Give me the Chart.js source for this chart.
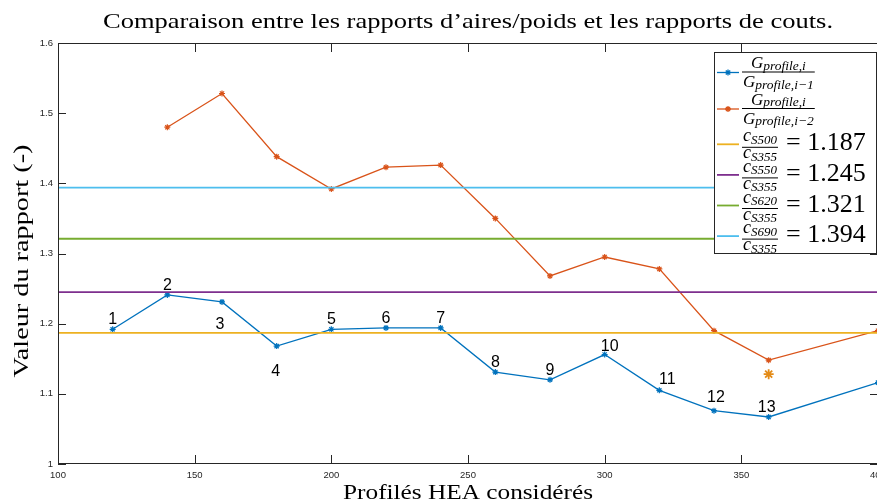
<!DOCTYPE html>
<html>
<head>
<meta charset="utf-8">
<script src="https://cdn.jsdelivr.net/npm/chart.js@4.4.0/dist/chart.umd.min.js"></script>
<style>
  html, body { margin: 0; padding: 0; background: #fff; overflow: hidden; }
  canvas { display: block; }
</style>
</head>
<body>
<canvas id="ratios" width="878" height="501"></canvas>
<script>
// HEA sizes and area ratio with the previous profile (i / i-1)
const xConsec = [120, 140, 160, 180, 200, 220, 240, 260, 280, 300, 320, 340, 360, 400];
const ratioConsec = [1.192, 1.241, 1.231, 1.168, 1.192, 1.194, 1.194, 1.131, 1.120, 1.156, 1.105, 1.076, 1.067, 1.116];
// area ratio with the profile two sizes below (i / i-2)
const xSkip = [140, 160, 180, 200, 220, 240, 260, 280, 300, 320, 340, 360, 400];
const ratioSkip = [1.480, 1.528, 1.438, 1.392, 1.423, 1.426, 1.350, 1.268, 1.295, 1.278, 1.190, 1.148, 1.190];
const pointLabels = ['1', '2', '3', '4', '5', '6', '7', '8', '9', '10', '11', '12', '13'];
// single highlighted point
const markX = [360];
const markY = [1.128];
// steel cost ratios relative to S355
const steelGrades = ['S500', 'S550', 'S620', 'S690'];
const costRatios = [1.187, 1.245, 1.321, 1.394];
const xTicks = [100, 150, 200, 250, 300, 350, 400];
const yTicks = [1, 1.1, 1.2, 1.3, 1.4, 1.5, 1.6];

const BLUE = '#0072BD', ORANGE = '#D95319';
const gradeColors = ['#EDB120', '#7E2F8E', '#77AC30', '#4DBEEE'];
const AXIS = '#262626';
const SERIF = '"Liberation Serif", "Times New Roman", serif';

const hLines = costRatios.map((c, i) => ({
  label: steelGrades[i],
  data: [{ x: xTicks[0], y: c }, { x: xTicks[xTicks.length - 1], y: c }],
  borderColor: gradeColors[i],
  borderWidth: 1.8,
  pointRadius: 0,
  order: 0
}));

// draw a run of text pieces (main letter, subscript...) left to right
function mathRun(ctx, runs, x, y, measureOnly) {
  let w = 0;
  runs.forEach(r => {
    ctx.font = (r.upright ? '' : 'italic ') + r.size + 'px ' + SERIF;
    if (!measureOnly) ctx.fillText(r.t, x + w, y + (r.dy || 0));
    w += ctx.measureText(r.t).width;
  });
  return w;
}

function frac(ctx, num, den, x, bar, numUp, denDown) {
  const wn = mathRun(ctx, num, 0, 0, true);
  const wd = mathRun(ctx, den, 0, 0, true);
  const w = Math.max(wn, wd) + 2;
  mathRun(ctx, num, x + (w - wn) / 2, bar - numUp);
  mathRun(ctx, den, x + (w - wd) / 2, bar + denDown);
  ctx.fillRect(x, bar - 0.5, w, 1);
  return w;
}

function fitText(ctx, text, cx, y, width) {
  const m = ctx.measureText(text).width;
  ctx.save();
  ctx.translate(cx, y);
  ctx.scale(width / m, 1);
  ctx.textAlign = 'center';
  ctx.fillText(text, 0, 0);
  ctx.restore();
}

const decorations = {
  id: 'decorations',
  afterDraw(chart, args, opts) {
    const ctx = chart.ctx;
    const { left, right, top, bottom } = chart.chartArea;
    const xs = chart.scales.x, ys = chart.scales.y;
    ctx.save();

    // axes box with inward ticks
    ctx.strokeStyle = AXIS;
    ctx.lineWidth = 1;
    ctx.beginPath();
    ctx.rect(left + 0.5, top + 0.5, right - left - 1, bottom - top - 1);
    xTicks.forEach(v => {
      const px = Math.round(xs.getPixelForValue(v)) + 0.5;
      ctx.moveTo(px, bottom); ctx.lineTo(px, bottom - 9);
      ctx.moveTo(px, top); ctx.lineTo(px, top + 9);
    });
    yTicks.forEach(v => {
      const py = Math.round(ys.getPixelForValue(v)) + 0.5;
      ctx.moveTo(left, py); ctx.lineTo(left + 8, py);
      ctx.moveTo(right, py); ctx.lineTo(right - 8, py);
    });
    ctx.stroke();

    // numbers beside the i / i-1 points
    const pts = chart.getDatasetMeta(0).data;
    ctx.fillStyle = '#000';
    ctx.font = '16px "Liberation Sans", Arial, sans-serif';
    ctx.textAlign = 'center';
    ctx.textBaseline = 'alphabetic';
    pointLabels.forEach((t, i) => {
      const s = opts.shift[i] || [0, -5];
      ctx.fillText(t, pts[i].x + s[0], pts[i].y + s[1]);
    });

    // title and axis titles
    ctx.fillStyle = '#000';
    ctx.font = '21px ' + SERIF;
    fitText(ctx, 'Comparaison entre les rapports d\u2019aires/poids et les rapports de couts.', 468, 28, 730);
    ctx.font = '21px ' + SERIF;
    fitText(ctx, 'Profilés HEA considérés', 468, 499, 250);
    ctx.save();
    ctx.translate(28, 261);
    ctx.rotate(-Math.PI / 2);
    ctx.font = '21px ' + SERIF;
    fitText(ctx, 'Valeur du rapport (-)', 0, 0, 233);
    ctx.restore();

    // legend
    const bx = 714, by = 52, bw = 162, bh = 201;
    ctx.fillStyle = '#fff';
    ctx.fillRect(bx, by, bw, bh);
    ctx.strokeStyle = AXIS;
    ctx.lineWidth = 1;
    ctx.strokeRect(bx + 0.5, by + 0.5, bw, bh);
    ctx.textAlign = 'left';
    ctx.fillStyle = '#000';

    const series = [
      { color: BLUE, bar: 72, sub: 'profile,i\u22121' },
      { color: ORANGE, bar: 108.5, sub: 'profile,i\u22122' }
    ];
    series.forEach(s => {
      ctx.strokeStyle = s.color;
      ctx.lineWidth = 1.3;
      ctx.beginPath();
      ctx.moveTo(717, s.bar + 0.5); ctx.lineTo(739, s.bar + 0.5);
      ctx.stroke();
      Chart.helpers.drawPoint(ctx, { pointStyle: 'star', radius: 3, rotation: 0, borderWidth: 1.2 }, 728, s.bar + 0.5);
      ctx.fillStyle = '#000';
      frac(ctx,
        [{ t: 'G', size: 17 }, { t: 'profile,i', size: 13.5, dy: 1.5 }],
        [{ t: 'G', size: 17 }, { t: s.sub, size: 13.5, dy: 1.5 }],
        742, s.bar, 4, 15);
    });

    costRatios.forEach((c, i) => {
      const bar = 147.3 + 30.6 * i;
      ctx.strokeStyle = gradeColors[i];
      ctx.lineWidth = 1.8;
      ctx.beginPath();
      ctx.moveTo(717, bar - 3); ctx.lineTo(739, bar - 3);
      ctx.stroke();
      ctx.fillStyle = '#000';
      const w = frac(ctx,
        [{ t: 'c', size: 18 }, { t: steelGrades[i], size: 13, dy: 2.5 }],
        [{ t: 'c', size: 18 }, { t: 'S355', size: 13, dy: 2.5 }],
        742, bar, 6, 11);
      ctx.font = '26px ' + SERIF;
      ctx.fillText('= ' + c.toFixed(3), 742 + w + 8, bar + 3);
    });

    ctx.restore();
  }
};

const tickFont = { family: '"Liberation Sans", Arial', size: 9.5 };

new Chart(document.getElementById('ratios'), {
  type: 'line',
  data: {
    datasets: [
      {
        label: 'i / i-1',
        data: xConsec.map((x, i) => ({ x, y: ratioConsec[i] })),
        borderColor: BLUE,
        backgroundColor: BLUE,
        borderWidth: 1.3,
        pointStyle: 'star',
        pointRadius: 3,
        pointBorderWidth: 1.2,
        order: 1
      },
      {
        label: 'i / i-2',
        data: xSkip.map((x, i) => ({ x, y: ratioSkip[i] })),
        borderColor: ORANGE,
        backgroundColor: ORANGE,
        borderWidth: 1.3,
        pointStyle: 'star',
        pointRadius: 3,
        pointBorderWidth: 1.2,
        order: 1
      },
      {
        label: 'mark',
        data: markX.map((x, i) => ({ x, y: markY[i] })),
        showLine: false,
        borderColor: '#E38B17',
        pointStyle: 'star',
        pointRadius: 5,
        pointBorderWidth: 1.8,
        order: 1
      },
      ...hLines
    ]
  },
  options: {
    responsive: false,
    animation: false,
    events: [],
    layout: { autoPadding: false, padding: { top: 43, left: 0, right: 0, bottom: 0 } },
    plugins: {
      legend: { display: false },
      title: { display: false },
      tooltip: { enabled: false },
      decorations: {
        shift: {
          2: [-2, 27],
          3: [-1, 30],
          9: [5, -4],
          10: [8, -6],
          11: [2, -9],
          12: [-2, -5]
        }
      }
    },
    scales: {
      x: {
        type: 'linear',
        min: 100,
        max: 400,
        afterBuildTicks: s => { s.ticks = xTicks.map(v => ({ value: v })); },
        afterFit: s => { s.height = 37; s.paddingLeft = 0; s.paddingRight = 0; },
        grid: { display: false, drawTicks: false, tickLength: 0 },
        border: { display: false },
        ticks: { padding: 6, color: AXIS, font: tickFont, maxRotation: 0 }
      },
      y: {
        min: 1,
        max: 1.6,
        afterBuildTicks: s => { s.ticks = yTicks.map(v => ({ value: v })); },
        afterFit: s => { s.width = 58; s.paddingTop = 0; s.paddingBottom = 0; },
        grid: { display: false, drawTicks: false, tickLength: 0 },
        border: { display: false },
        ticks: {
          padding: 5,
          color: AXIS,
          font: tickFont,
          callback: v => String(+v.toFixed(1))
        }
      }
    }
  },
  plugins: [decorations]
});
</script>
</body>
</html>
